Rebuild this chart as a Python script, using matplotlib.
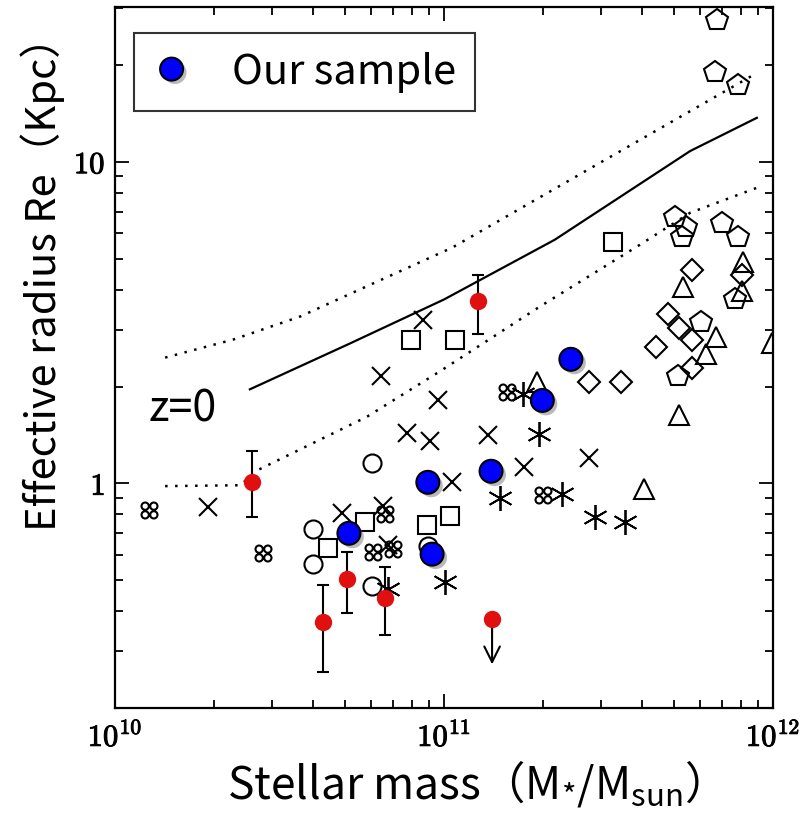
import matplotlib
matplotlib.use("Agg")
import matplotlib.pyplot as plt
import matplotlib.patheffects as pe
import numpy as np
from matplotlib.path import Path
from matplotlib.ticker import LogLocator, NullFormatter, FixedLocator, FixedFormatter

plt.rcParams["mathtext.fontset"] = "cm"
plt.rcParams["mathtext.rm"] = "Noto Sans CJK JP"
plt.rcParams["mathtext.it"] = "Noto Sans CJK JP"
plt.rcParams["mathtext.bf"] = "Noto Sans CJK JP:bold"
plt.rcParams["mathtext.sf"] = "Noto Sans CJK JP"
TXT = ["Noto Sans CJK JP", "DejaVu Sans"]

# z=0 relation (mass in Msun, Re in kpc)
rel_m = [2.57e10, 5.17e10, 1.0e11, 2.17e11, 5.6e11, 8.93e11]
rel_re = [1.96, 2.72, 3.73, 5.72, 10.8, 13.7]
up_m = [1.42e10, 2.29e10, 3.65e10, 1.06e11, 2.98e11, 8.7e11]
up_re = [2.46, 2.80, 3.30, 5.41, 9.93, 18.6]
lo_m = [1.42e10, 2.40e10, 2.72e10, 5.83e10, 9.72e10, 1.96e11, 3.94e11, 5.6e11, 8.93e11]
lo_re = [0.98, 0.986, 1.10, 1.61, 2.23, 3.55, 5.52, 6.94, 8.30]

# literature samples
sq_m = [7.94e10, 1.08e11, 3.27e11, 4.44e10, 5.75e10, 8.87e10, 1.04e11]
sq_re = [2.80, 2.80, 5.64, 0.628, 0.757, 0.741, 0.790]
x_m = [8.63e10, 6.44e10, 9.59e10, 7.73e10, 9.06e10, 1.06e11, 1.36e11, 1.75e11, 2.76e11,
       1.92e10, 4.90e10, 6.53e10, 6.76e10]
x_re = [3.23, 2.16, 1.81, 1.43, 1.35, 1.007, 1.41, 1.12, 1.20, 0.842, 0.807, 0.849, 0.642]
ci_m = [6.04e10, 4.00e10, 4.00e10, 6.04e10, 8.93e10]
ci_re = [1.16, 0.720, 0.560, 0.479, 0.637]
cl_m = [1.27e10, 2.82e10, 6.62e10, 6.08e10, 7.00e10, 1.55e11, 2.00e11]
cl_re = [0.824, 0.606, 0.801, 0.610, 0.624, 1.92, 0.918]
as_m = [1.74e11, 1.95e11, 2.29e11, 1.48e11, 2.88e11, 3.55e11, 6.76e10, 1.01e11]
as_re = [1.89, 1.42, 0.925, 0.898, 0.784, 0.757, 0.469, 0.493]
tr_m = [1.92e11, 5.32e11, 8.11e11, 8.05e11, 6.71e11, 6.26e11, 9.93e11, 5.18e11, 4.06e11]
tr_re = [2.07, 4.09, 4.89, 3.95, 2.86, 2.53, 2.74, 1.63, 0.958]
di_m = [5.68e11, 8.05e11, 4.80e11, 5.18e11, 5.68e11, 4.41e11, 5.68e11, 2.76e11, 3.45e11]
di_re = [4.62, 4.43, 3.35, 3.05, 2.80, 2.65, 2.29, 2.06, 2.06]
pe_m = [6.76e11, 6.67e11, 7.83e11, 5.03e11, 5.45e11, 5.28e11, 7.00e11, 7.83e11, 7.66e11,
        6.04e11, 5.14e11]
pe_re = [27.6, 19.0, 17.3, 6.75, 6.28, 5.85, 6.47, 5.85, 3.73, 3.18, 2.15]

# red points with errors
red_m = [2.61e10, 1.27e11, 4.29e10, 5.07e10, 6.62e10]
red_re = [1.01, 3.70, 0.370, 0.503, 0.440]
red_hi = [1.26, 4.45, 0.482, 0.610, 0.548]
red_lo = [0.784, 2.92, 0.259, 0.395, 0.337]
lim_m = 1.40e11
lim_re = 0.378
lim_tip = 0.268

# our sample
our_m = [2.43e11, 1.99e11, 1.39e11, 8.93e10, 5.14e10, 9.2e10]
our_re = [2.43, 1.81, 1.09, 1.007, 0.699, 0.602]


def clover_marker():
    circles = [Path.circle((cx, cy), 0.42) for cx, cy in [(0.5, 0.5), (-0.5, 0.5), (0.5, -0.5), (-0.5, -0.5)]]
    return Path.make_compound_path(*circles)


fig = plt.figure(figsize=(8.05, 8.22), dpi=100)
ax = fig.add_axes([115 / 805, 1 - 708 / 822, 658 / 805, 701 / 822])
ax.set_xscale("log")
ax.set_yscale("log")
ax.set_xlim(1e10, 1e12)
ax.set_ylim(0.2, 30.3)

ax.plot(rel_m, rel_re, color="black", lw=1.6, zorder=2)
ax.plot(up_m, up_re, color="black", lw=1.8, ls=(0, (1, 3)), zorder=2)
ax.plot(lo_m, lo_re, color="black", lw=1.8, ls=(0, (1, 3)), zorder=2)

open_kw = dict(ls="none", mfc="none", mec="black", mew=1.5, zorder=3)
ax.plot(sq_m, sq_re, marker="s", ms=13.5, **open_kw)
ax.plot(x_m, x_re, marker="x", ms=13, **open_kw)
ax.plot(ci_m, ci_re, marker="o", ms=13, **open_kw)
ax.plot(cl_m, cl_re, marker=clover_marker(), ms=11.5, **open_kw)
ax.plot(as_m, as_re, marker=(6, 2, 0), ms=18, ls="none", mfc="none", mec="black", mew=1.3, zorder=3)
ax.plot(tr_m, tr_re, marker="^", ms=14.5, **open_kw)
ax.plot(di_m, di_re, marker="D", ms=11, **open_kw)
ax.plot(pe_m, pe_re, marker="p", ms=16, **open_kw)

red_c = "#e01010"
yerr = [np.array(red_re) - np.array(red_lo), np.array(red_hi) - np.array(red_re)]
ax.errorbar(red_m, red_re, yerr=yerr, fmt="none", ecolor="black", elinewidth=1.5, capsize=4, capthick=1.5, zorder=4)
ax.plot(red_m, red_re, ls="none", marker="o", ms=12.5, mfc=red_c, mec="none", zorder=5)
ax.annotate("", xy=(lim_m, lim_tip), xytext=(lim_m, lim_re),
            arrowprops=dict(arrowstyle="->", color="black", lw=1.5, mutation_scale=28), zorder=4)
ax.plot([lim_m], [lim_re], ls="none", marker="o", ms=12.5, mfc=red_c, mec="none", zorder=5)

shadow = [pe.SimplePatchShadow(offset=(2.5, -2.5), shadow_rgbFace="0.4", alpha=0.45), pe.Normal()]
ours, = ax.plot(our_m, our_re, ls="none", marker="o", ms=16.5, mfc="#0000ff", mec="black", mew=1.5,
                zorder=6, label="Our sample", path_effects=shadow)

ax.text(1.26e10, 1.70, "z=0", fontsize=31, family=TXT, ha="left", va="center")

leg = ax.legend(handles=[ours], loc="upper left", bbox_to_anchor=(0.029, 0.963),
                prop={"family": TXT, "size": 30}, frameon=True, fancybox=False, borderpad=0.45,
                handletextpad=1.0, handlelength=0.9, borderaxespad=0)
leg.get_frame().set_edgecolor("black")
leg.get_frame().set_linewidth(1.5)

# ticks
ax.xaxis.set_major_locator(FixedLocator([1e10, 1e11, 1e12]))
ax.xaxis.set_major_formatter(FixedFormatter([r"$\mathbf{10^{10}}$", r"$\mathbf{10^{11}}$", r"$\mathbf{10^{12}}$"]))
ax.xaxis.set_minor_locator(LogLocator(base=10, subs=np.arange(2, 10)))
ax.xaxis.set_minor_formatter(NullFormatter())
ax.yaxis.set_major_locator(FixedLocator([1, 10]))
ax.yaxis.set_major_formatter(FixedFormatter([r"$\mathbf{1}$", r"$\mathbf{10}$"]))
ax.yaxis.set_minor_locator(LogLocator(base=10, subs=np.arange(2, 10)))
ax.yaxis.set_minor_formatter(NullFormatter())
ax.tick_params(which="both", direction="in", top=True, right=True, width=1.3, labelsize=22)
ax.tick_params(which="major", length=10)
ax.tick_params(which="minor", length=6)
ax.tick_params(axis="x", which="major", pad=9)
ax.tick_params(axis="y", which="major", pad=7)
for s in ax.spines.values():
    s.set_linewidth(1.6)
for lab in ax.get_xticklabels() + ax.get_yticklabels():
    lab.set_path_effects([pe.withStroke(linewidth=0.7, foreground="black")])

ax.set_xlabel("Stellar mass（M$_{*}$/M$_{\\mathrm{sun}}$）", fontsize=32, family=TXT,
              math_fontfamily="custom")
ax.xaxis.set_label_coords(0.53, -0.072)
ax.set_ylabel("Effective radius Re（Kpc）", fontsize=30, family=TXT)
ax.yaxis.set_label_coords(-0.076, 0.62)

fig.savefig("out.png", dpi=100)
